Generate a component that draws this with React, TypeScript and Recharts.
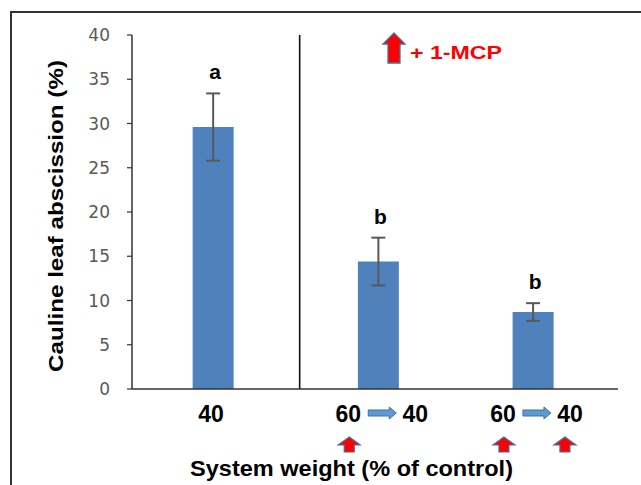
import React from 'react';
import { BarChart, Bar, XAxis, YAxis, ErrorBar, ReferenceLine, LabelList } from 'recharts';

// ---- data ----
const xPositions = [1, 3.04, 4.95];
const values = [29.6, 14.4, 8.7];
const errors = [3.8, 2.7, 1.0];
const letters = ['a', 'b', 'b'];
const fromWeights = ['', '60', '60'];
const toWeights = ['40', '40', '40'];
const mcpFrom = [false, true, true];
const mcpTo = [false, false, true];
const yTicks = [0, 5, 10, 15, 20, 25, 30, 35, 40];
const separatorX = 2.07;
const yTitle = 'Cauline leaf abscission (%)';
const xTitle = 'System weight (% of control)';
const legendText = '+ 1-MCP';

const data = xPositions.map((x, i) => ({ x, value: values[i], err: errors[i] }));

const FONT = 'Liberation Sans, Arial, sans-serif';
const ARROW_STROKE = '#41719c';

const RedUpArrow = ({ cx, top }: { cx: number; top: number }) => {
  const pts = [
    [cx, top],
    [cx + 11, top + 8],
    [cx + 5, top + 8],
    [cx + 5, top + 15],
    [cx - 5, top + 15],
    [cx - 5, top + 8],
    [cx - 11, top + 8],
  ]
    .map((p) => p.join(','))
    .join(' ');
  return <polygon points={pts} fill="#ff0000" stroke={ARROW_STROKE} strokeWidth={1.2} />;
};

const BlueRightArrow = ({ cx, cy }: { cx: number; cy: number }) => {
  const L = cx - 14;
  const R = cx + 14;
  const pts = [
    [L, cy - 3],
    [R - 7, cy - 3],
    [R - 7, cy - 6],
    [R, cy],
    [R - 7, cy + 6],
    [R - 7, cy + 3],
    [L, cy + 3],
  ]
    .map((p) => p.join(','))
    .join(' ');
  return <polygon points={pts} fill="#5b9bd5" stroke={ARROW_STROKE} strokeWidth={1} />;
};

const XTick = (props: any) => {
  const { x, y, index } = props;
  const i = index ?? 0;
  const textStyle = { fontFamily: FONT, fontWeight: 700, fontSize: 23, fill: '#000' };
  if (!fromWeights[i]) {
    return (
      <g>
        <text x={x - 2} y={y + 33} textAnchor="middle" style={textStyle}>
          {toWeights[i]}
        </text>
      </g>
    );
  }
  const fromX = x - 30;
  const toX = x + 37;
  return (
    <g>
      <text x={fromX} y={y + 33} textAnchor="middle" style={textStyle}>
        {fromWeights[i]}
      </text>
      <BlueRightArrow cx={x + 4} cy={y + 24} />
      <text x={toX} y={y + 33} textAnchor="middle" style={textStyle}>
        {toWeights[i]}
      </text>
      {mcpFrom[i] && <RedUpArrow cx={fromX + 1} top={y + 48} />}
      {mcpTo[i] && <RedUpArrow cx={toX - 5} top={y + 48} />}
    </g>
  );
};

const LetterLabel = (props: any) => {
  const { x, y, width, height, value, index } = props;
  if (x == null || y == null) return null;
  const i = index ?? 0;
  const pxPerUnit = value ? height / value : 0;
  const errTop = y - errors[i] * pxPerUnit;
  return (
    <text
      x={x + width / 2 + 2}
      y={errTop - 14}
      textAnchor="middle"
      style={{ fontFamily: FONT, fontWeight: 700, fontSize: 21, fill: '#000' }}
    >
      {letters[i]}
    </text>
  );
};

export default function App() {
  return (
    <div
      style={{
        position: 'absolute',
        left: 0,
        top: 0,
        width: 641,
        height: 485,
        background: '#fff',
        overflow: 'hidden',
      }}
    >
      <BarChart
        width={641}
        height={485}
        data={data}
        margin={{ top: 35, right: 23, bottom: 36, left: 72 }}
        barSize={41}
      >
        <XAxis
          dataKey="x"
          type="number"
          domain={[0, 6]}
          ticks={xPositions}
          tick={<XTick />}
          tickLine={false}
          tickSize={0}
          tickMargin={0}
          height={60}
          interval={0}
          allowDecimals
          axisLine={{ stroke: '#333', strokeWidth: 1.5 }}
        />
        <YAxis
          domain={[0, 40]}
          ticks={yTicks}
          width={60}
          tickSize={5}
          tickMargin={17}
          interval={0}
          tick={{ fill: '#595959', fontSize: 17, fontFamily: 'DejaVu Sans' }}
          axisLine={{ stroke: '#333', strokeWidth: 1.5 }}
          tickLine={{ stroke: '#333', strokeWidth: 1.2 }}
        />
        <ReferenceLine x={separatorX} stroke="#111" strokeWidth={1.6} />
        <Bar dataKey="value" fill="#4f81bd" isAnimationActive={false}>
          <ErrorBar dataKey="err" width={7} stroke="#595959" strokeWidth={2} direction="y" />
          <LabelList dataKey="value" content={<LetterLabel />} />
        </Bar>
      </BarChart>
      <svg
        width={641}
        height={485}
        style={{ position: 'absolute', left: 0, top: 0, pointerEvents: 'none' }}
      >
        <path d="M11,485 L11,12 L641,12" fill="none" stroke="#333" strokeWidth={2} />
        <text
          x={63}
          y={216}
          transform="rotate(-90, 63, 216)"
          textAnchor="middle"
          textLength={312}
          lengthAdjust="spacingAndGlyphs"
          style={{ fontFamily: FONT, fontWeight: 700, fontSize: 20, fill: '#000' }}
        >
          {yTitle}
        </text>
        <text
          x={190}
          y={476}
          textLength={323}
          lengthAdjust="spacingAndGlyphs"
          style={{ fontFamily: FONT, fontWeight: 700, fontSize: 22, fill: '#000' }}
        >
          {xTitle}
        </text>
        <polygon
          points="394,33 405,44 400,44 400,63 388,63 388,44 383,44"
          fill="#ff0000"
          stroke={ARROW_STROKE}
          strokeWidth={1.3}
        />
        <text
          x={410}
          y={59}
          textLength={92}
          lengthAdjust="spacingAndGlyphs"
          style={{ fontFamily: FONT, fontWeight: 700, fontSize: 19, fill: '#ff0000' }}
        >
          {legendText}
        </text>
      </svg>
    </div>
  );
}
